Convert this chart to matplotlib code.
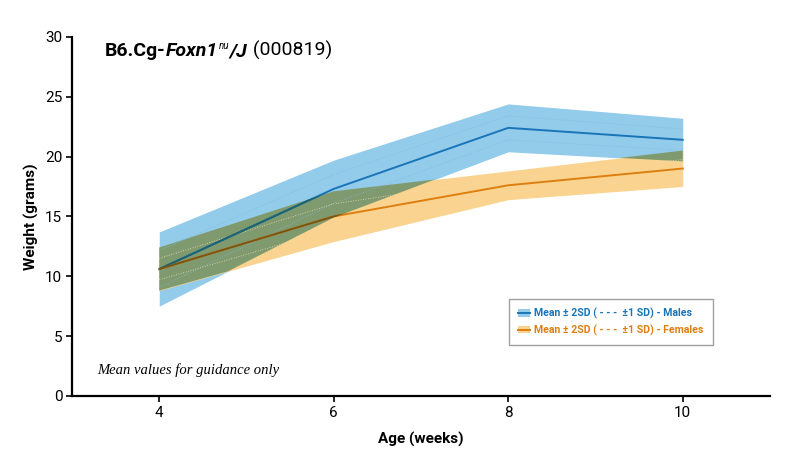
import numpy as np
import matplotlib
matplotlib.use('Agg')
import matplotlib.pyplot as plt
from matplotlib.patches import Patch
from matplotlib.lines import Line2D

# ── data ──────────────────────────────────────────────────────────────────────
ages = [4, 6, 8, 10]
male_mean = [10.6, 17.3, 22.4, 21.4]
male_sd = [1.55, 1.2, 1.0, 0.9]
female_mean = [10.6, 15.0, 17.6, 19.0]
female_sd = [0.9, 1.05, 0.6, 0.75]

yticks = [0, 5, 10, 15, 20, 25, 30]

# ── colours ──────────────────────────────────────────────────────────────────
m_band, m_line, m_dark = '#93cbeb', '#1a75b8', '#1d6470'
f_band, f_line, f_dark = '#f9d38f', '#dd7f10', '#7a5512'
olive = '#7f9a6e'

plt.rcParams['font.family'] = ['Roboto', 'DejaVu Sans']

fig = plt.figure(figsize=(8, 4.73), dpi=100)
ax = fig.add_axes([0.09, 0.163, 0.8725, 0.759])

x = np.array(ages, dtype=float)
mm, ms = np.array(male_mean), np.array(male_sd)
fm, fs = np.array(female_mean), np.array(female_sd)

ax.fill_between(x, mm - 2 * ms, mm + 2 * ms, color=m_band, lw=0, zorder=1)
ax.fill_between(x, fm - 2 * fs, fm + 2 * fs, color=f_band, lw=0, zorder=1)

# overlap of the two bands drawn darker (multiply look)
xs = np.linspace(x[0], x[-1], 1201)
lo = np.maximum(np.interp(xs, x, mm - 2 * ms), np.interp(xs, x, fm - 2 * fs))
hi = np.minimum(np.interp(xs, x, mm + 2 * ms), np.interp(xs, x, fm + 2 * fs))
ov = ax.fill_between(xs, lo, hi, where=hi > lo, interpolate=True,
                     color=olive, lw=0, zorder=2)

# ±1 SD dotted lines (very faint)
for mean, sd, c in [(mm, ms, '#80b8dc'), (fm, fs, '#f6dfb2')]:
    ax.plot(x, mean + sd, ls=(0, (1, 2)), lw=0.6, color=c, zorder=3)
    ax.plot(x, mean - sd, ls=(0, (1, 2)), lw=0.6, color=c, zorder=3)

ax.plot(x, mm, color=m_line, lw=1.4, zorder=4)
ax.plot(x, fm, color=f_line, lw=1.4, zorder=4)
for p in ov.get_paths():
    for mean, c in [(mm, m_dark), (fm, f_dark)]:
        ln, = ax.plot(x, mean, color=c, lw=1.4, zorder=5)
        ln.set_clip_path(p, transform=ax.transData)

# ── axes styling ─────────────────────────────────────────────────────────────
ax.set_xlim(3, 11)
ax.set_ylim(0, 30)
ax.set_xticks(ages)
ax.set_yticks(yticks)
for s in ['top', 'right']:
    ax.spines[s].set_visible(False)
for s in ['left', 'bottom']:
    ax.spines[s].set_linewidth(1.6)
ax.tick_params(axis='both', direction='out', length=4, width=1.2,
               labelsize=11, pad=3)
ax.set_xlabel('Age (weeks)', fontsize=11, fontweight='bold', labelpad=9)
ax.set_ylabel('Weight (grams)', fontsize=11, fontweight='bold', labelpad=4)

ax.text(0.036, 0.072, 'Mean values for guidance only', transform=ax.transAxes,
        fontsize=10.5, style='italic', family='Liberation Serif', va='center')

# ── title built from pieces ──────────────────────────────────────────────────
renderer = fig.canvas.get_renderer()
pieces = [('B6.Cg-', 'bold', 'normal', 14, 0),
          ('Foxn1', 'bold', 'italic', 14, 0),
          ('nu', 'normal', 'italic', 7, 7),
          ('/J', 'bold', 'italic', 14, 0),
          (' (000819)', 'normal', 'normal', 14, 0)]
xpos, ybase = 105, 473 - 56
for txt, w, st, sz, dy in pieces:
    t = fig.text(xpos / 800, (ybase + dy) / 473, txt, fontsize=sz,
                 fontweight=w, style=st, va='baseline', ha='left')
    xpos = t.get_window_extent(renderer).x1 + 0.5

# ── legend ───────────────────────────────────────────────────────────────────
handles = [(Patch(facecolor=m_band, edgecolor='none'), Line2D([], [], color=m_line, lw=1.4)),
           (Patch(facecolor=f_band, edgecolor='none'), Line2D([], [], color=f_line, lw=1.4))]
labels = ['Mean \u00b1 2SD ( - - -  \u00b11 SD) - Males',
          'Mean \u00b1 2SD ( - - -  \u00b11 SD) - Females']
leg = ax.legend(handles, labels, loc='lower left', bbox_to_anchor=(0.618, 0.126),
                frameon=True, fancybox=False, edgecolor='#888888',
                fontsize=7.6, handlelength=1.1, handletextpad=0.4,
                labelspacing=0.5, borderpad=0.9)
leg.get_frame().set_linewidth(1.0)
for t, c in zip(leg.get_texts(), [m_line, f_line]):
    t.set_color(c)
    t.set_fontweight('bold')

fig.savefig('out.png', dpi=100, facecolor='white')
